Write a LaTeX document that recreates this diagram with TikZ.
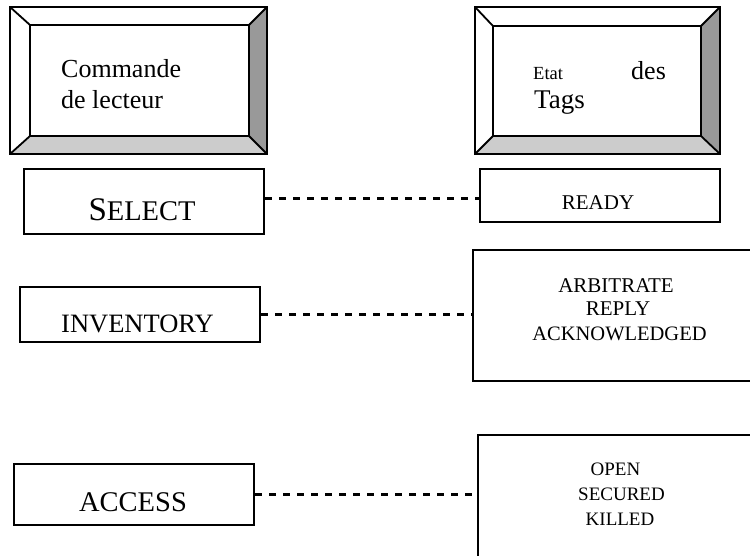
\documentclass[tikz,border=0pt]{standalone}
\usepackage{fontspec}
\setmainfont{Liberation Serif}
\newcommand\fsz[1]{\fontsize{#1}{#1}\selectfont}
\definecolor{bevelside}{HTML}{999999}
\definecolor{bevelbottom}{HTML}{CCCCCC}
\begin{document}
\begin{tikzpicture}[x=1pt,y=-1pt,
  statebox/.style={draw, line width=2pt, inner sep=0pt, anchor=north west},
  link/.style={line width=2.2pt, dash pattern=on 7pt off 7pt},
  bevelline/.style={line width=1.8pt, line join=miter},
  lbl/.style={inner sep=0pt, anchor=base},
  lblw/.style={inner sep=0pt, anchor=base west}]
\useasboundingbox (0,0) rectangle (750,555);

% bevelled header: reader command
\fill[bevelside] (267,7) -- (267,154) -- (249,136) -- (249,25) -- cycle;
\fill[bevelbottom] (10,154) -- (267,154) -- (249,136) -- (30,136) -- cycle;
\draw[bevelline] (10,7) rectangle (267,154);
\draw[bevelline] (30,25) rectangle (249,136);
\draw[bevelline] (10,7) -- (30,25) (267,7) -- (249,25)
                 (10,154) -- (30,136) (267,154) -- (249,136);
\node[lblw] (cmd1) at (61,77) {\fsz{26}Commande};
\node[lblw] (cmd2) at (61,108) {\fsz{26}de lecteur};

% bevelled header: tag states
\fill[bevelside] (720,7) -- (720,154) -- (701,136) -- (701,26) -- cycle;
\fill[bevelbottom] (475,154) -- (720,154) -- (701,136) -- (493,136) -- cycle;
\draw[bevelline] (475,7) rectangle (720,154);
\draw[bevelline] (493,26) rectangle (701,136);
\draw[bevelline] (475,7) -- (493,26) (720,7) -- (701,26)
                 (475,154) -- (493,136) (720,154) -- (701,136);
\node[lblw] (etat) at (533,79) {\fsz{18.5}Etat};
\node[lblw] (des) at (631,79) {\fsz{26}des};
\node[lblw] (tags) at (534,108) {\fsz{27}Tags};

% command boxes
\node[statebox, minimum width=240pt, minimum height=65pt] (sel) at (23,168) {};
\node[statebox, minimum width=240pt, minimum height=55pt] (inv) at (19,286) {};
\node[statebox, minimum width=240pt, minimum height=61pt] (acc) at (13,463) {};

% state boxes
\node[statebox, minimum width=240pt, minimum height=53pt] (ready) at (479,168) {};
\node[statebox, minimum width=295pt, minimum height=131pt] (arb) at (472,249) {};
\node[statebox, minimum width=286pt, minimum height=150pt] (open) at (477,434) {};

% labels
\node[lbl] (selt) at (142,220) {\fsz{33}S\fsz{28.5}ELECT};
\node[lbl] (invt) at (137.5,332) {\fsz{26.5}INVENTORY};
\node[lbl] (acct) at (133,511) {\fsz{28.5}ACCESS};
\node[lbl] (readyt) at (598,209) {\fsz{21}READY};
\node[lbl] (arb1) at (616,292) {\fsz{21}ARBITRATE};
\node[lbl] (arb2) at (618,315) {\fsz{21}REPLY};
\node[lbl] (arb3) at (619.5,340) {\fsz{20.5}ACKNOWLEDGED};
\node[lbl] (open1) at (615.5,475) {\fsz{19}OPEN};
\node[lbl] (open2) at (621.5,500) {\fsz{19}SECURED};
\node[lbl] (open3) at (620,525) {\fsz{19}KILLED};

% dashed correspondences
\draw[link] (sel.east |- 0,198.5) -- (ready.west |- 0,198.5);
\draw[link] (inv.east) -- (arb.west |- inv.east);
\draw[link] (acc.east) -- (open.west |- acc.east);
\end{tikzpicture}
\end{document}
